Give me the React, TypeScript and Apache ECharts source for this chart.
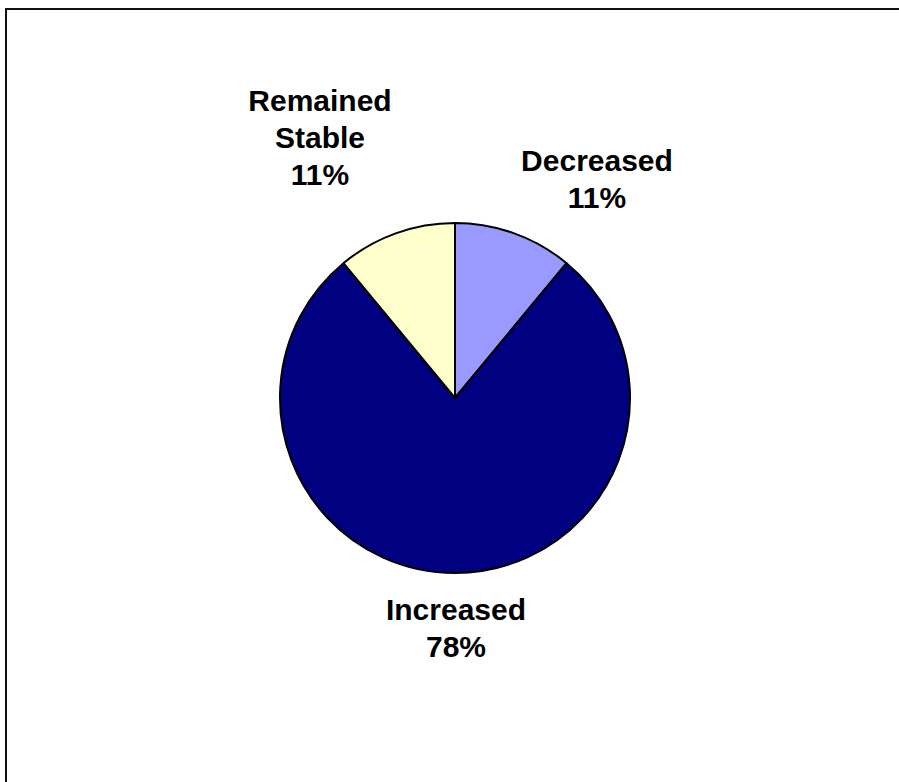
import React, { useEffect, useRef } from "react";
import * as echarts from "echarts";

// Share of respondents by change
const categories = ["Decreased", "Increased", "Remained Stable"];
const labelNames = ["Decreased", "Increased", "Remained\nStable"];
const shares = [11, 78, 11];
const colors = ["#9999FF", "#000080", "#FFFFCC"];

// Label anchor points (block centres) for each slice
const labelAnchors: [number, number][] = [
  [597, 179],
  [456, 628],
  [320, 137],
];

export default function App() {
  const ref = useRef<HTMLDivElement>(null);

  useEffect(() => {
    if (!ref.current) return;
    const chart = echarts.init(ref.current, undefined, { renderer: "svg" });
    chart.setOption({
      animation: false,
      backgroundColor: "#ffffff",
      graphic: [
        {
          type: "rect",
          shape: { x: 6, y: 9, width: 1200, height: 1200 },
          style: { fill: "none", stroke: "#111", lineWidth: 2 },
          silent: true,
        },
      ],
      series: [
        {
          type: "pie",
          center: [455, 398],
          radius: 175,
          startAngle: 90,
          clockwise: true,
          data: categories.map((name, i) => ({
            name,
            value: shares[i],
            itemStyle: { color: colors[i] },
          })),
          itemStyle: { borderColor: "#000", borderWidth: 2 },
          label: {
            show: true,
            position: "outside",
            formatter: (p: any) => `${labelNames[p.dataIndex]}\n${p.value}%`,
            fontFamily: "'Liberation Sans', Arial, sans-serif",
            fontWeight: "bold",
            fontSize: 30,
            lineHeight: 37,
            color: "#000",
            align: "center",
          },
          labelLine: { show: false },
          labelLayout: (params: any) => {
            const [x, y] = labelAnchors[params.dataIndex];
            return { x, y, align: "center", verticalAlign: "middle" };
          },
          emphasis: { disabled: true },
        },
      ],
    });
    return () => chart.dispose();
  }, []);

  return (
    <div
      ref={ref}
      style={{ position: "absolute", left: 0, top: 0, width: 899, height: 782 }}
    />
  );
}
